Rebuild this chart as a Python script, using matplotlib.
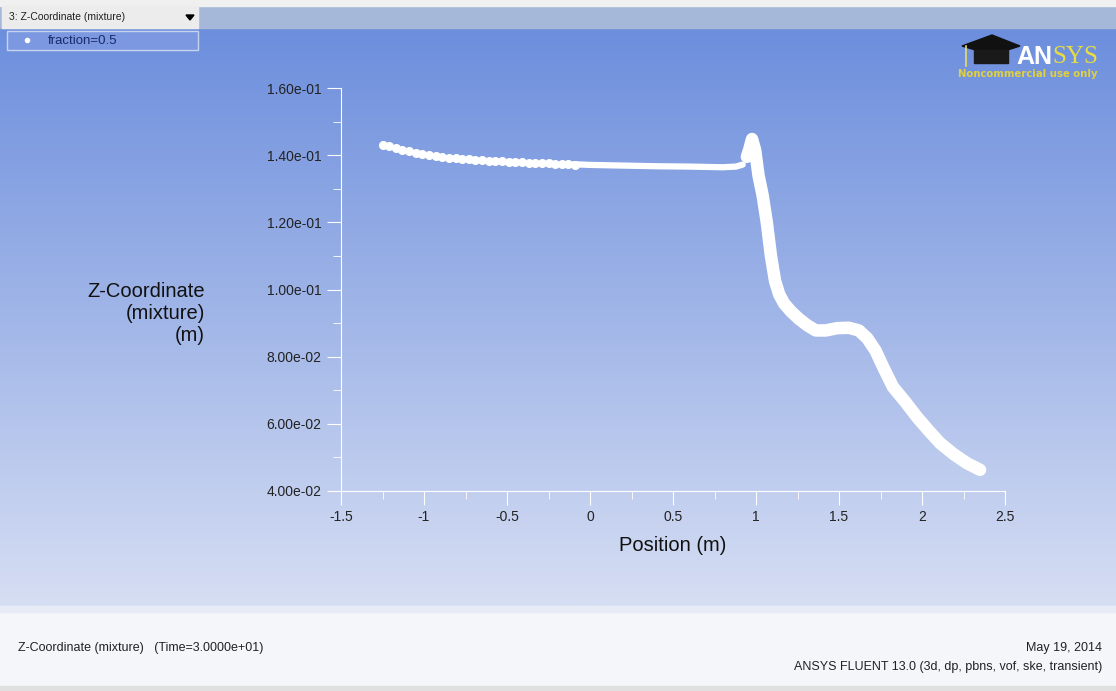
import numpy as np
import matplotlib
matplotlib.use("Agg")
import matplotlib.pyplot as plt
from matplotlib.patches import Rectangle, Polygon

plt.rcParams['font.family'] = ['Liberation Sans', 'DejaVu Sans']

# dotted start of the interface line (position, z)
dot_x = [-1.25, -1.21, -1.17, -1.13, -1.09, -1.05, -1.01, -0.97, -0.93, -0.89,
         -0.85, -0.81, -0.77, -0.73, -0.69, -0.65, -0.61, -0.57, -0.53, -0.49,
         -0.45, -0.41, -0.37, -0.33, -0.29, -0.25, -0.21, -0.17, -0.13, -0.09]
dot_z = [0.1430, 0.1426, 0.1421, 0.1416, 0.1411, 0.1407, 0.1403, 0.1400, 0.1397, 0.1395,
         0.1393, 0.1391, 0.1389, 0.1388, 0.1386, 0.1385, 0.1384, 0.1383, 0.1382, 0.1381,
         0.1380, 0.1379, 0.1378, 0.1377, 0.1377, 0.1376, 0.1375, 0.1374, 0.1373, 0.1372]

# thin flat part of the band
flat_x = [-0.10, 0.00, 0.20, 0.40, 0.60, 0.80, 0.88, 0.92]
flat_z = [0.1373, 0.1371, 0.1369, 0.1367, 0.1366, 0.1364, 0.1366, 0.1372]

# thick part: spike, drop, plateau, tail
band_x = [0.945, 0.96, 0.976, 0.995, 1.015, 1.04, 1.065, 1.09, 1.115,
          1.14, 1.17, 1.21, 1.26, 1.31, 1.36, 1.42, 1.49, 1.56, 1.62, 1.67,
          1.72, 1.77, 1.825, 1.90, 1.97, 2.04, 2.108, 2.19, 2.27, 2.35]
band_z = [0.1395, 0.1418, 0.1448, 0.1415, 0.1340, 0.1280, 0.1200, 0.1100, 0.1025,
          0.0985, 0.0958, 0.0935, 0.0912, 0.0893, 0.0878, 0.0878, 0.0885, 0.0886, 0.0878, 0.0855,
          0.0818, 0.0765, 0.0710, 0.0665, 0.0620, 0.0580, 0.0543, 0.0510, 0.0483, 0.0463]

xticks = [-1.5, -1, -0.5, 0, 0.5, 1, 1.5, 2, 2.5]
xtick_labels = ['-1.5', '-1', '-0.5', '0', '0.5', '1', '1.5', '2', '2.5']
yticks = [0.04, 0.06, 0.08, 0.10, 0.12, 0.14, 0.16]
ytick_labels = ['4.00e-02', '6.00e-02', '8.00e-02', '1.00e-01', '1.20e-01', '1.40e-01', '1.60e-01']

W, H = 1116, 691
fig = plt.figure(figsize=(W / 100, H / 100), dpi=100)

# background: gradient panel, white footer, top bar
bg = fig.add_axes([0, 0, 1, 1], zorder=-10)
bg.set_xlim(0, W)
bg.set_ylim(H, 0)
bg.axis('off')
top_c = np.array([108, 142, 221]) / 255
bot_c = np.array([214, 222, 243]) / 255
t = np.linspace(0, 1, 256)[:, None, None]
grad = top_c * (1 - t) + bot_c * t
grad = np.repeat(grad, 2, axis=1)
bg.imshow(grad, extent=[0, W, 606, 28], aspect='auto')
bg.add_patch(Rectangle((0, 606), W, 85, color='#f4f6fa'))
bg.add_patch(Rectangle((0, 606), W, 6, color='#e6ebf5'))
bg.add_patch(Rectangle((0, 686), W, 5, color='#e0e0e0'))
bg.add_patch(Rectangle((0, 0), W, 28, color='#a6b8da'))
bg.add_patch(Rectangle((0, 0), W, 6, color='#f0f0f0'))
bg.add_patch(Rectangle((2, 6), 196, 22, color='#ececec'))
bg.text(9, 17, '3: Z-Coordinate (mixture)', fontsize=7.5, va='center', color='#202020')
bg.add_patch(Polygon([[186, 15], [194, 15], [190, 20]], color='black'))
bg.add_patch(Rectangle((7, 31), 191, 19, facecolor='#7b98e0', edgecolor='#c8d4ee', lw=1))
bg.plot([27], [40], 'o', color='white', ms=3)
bg.text(48, 41, 'fraction=0.5', fontsize=9.5, va='center', color='#1a2a6a')

# ANSYS logo
bg.add_patch(Polygon([[962, 46], [992, 35], [1020, 46], [992, 55]], color='#111111'))
bg.add_patch(Polygon([[974, 50], [1008, 50], [1008, 63], [974, 63]], color='#1a1a1a'))
bg.plot([966, 966], [46, 66], color='#e8dc6a', lw=1.2)
bg.text(1016, 57, 'AN', fontsize=18, fontweight='bold', color='white', va='center')
bg.text(1052, 57, 'SYS', fontsize=18, family='Liberation Serif', color='#e6dc44', va='center')
bg.text(958, 74, 'Noncommercial use only', fontsize=7.3, fontweight='bold',
        family='DejaVu Sans', color='#e0d040', va='center')

# footer text
bg.text(18, 648, 'Z-Coordinate (mixture)   (Time=3.0000e+01)', fontsize=9, va='center', color='#222222')
bg.text(1102, 648, 'May 19, 2014', fontsize=9, va='center', ha='right', color='#222222')
bg.text(1102, 667, 'ANSYS FLUENT 13.0 (3d, dp, pbns, vof, ske, transient)', fontsize=9,
        va='center', ha='right', color='#222222')

# main plot
ax = fig.add_axes([341 / W, 1 - 491 / H, 664 / W, 403 / H])
ax.patch.set_alpha(0)
ax.plot(flat_x, flat_z, color='white', lw=4.5, solid_capstyle='round')
ax.plot(band_x, band_z, color='white', lw=9, solid_capstyle='round', solid_joinstyle='round')
ax.plot(dot_x, dot_z, 'o', color='white', ms=5.5, mec='white')
ax.set_xlim(-1.5, 2.5)
ax.set_ylim(0.04, 0.16)
for s in ['top', 'right']:
    ax.spines[s].set_visible(False)
for s in ['left', 'bottom']:
    ax.spines[s].set_color('white')
ax.set_xticks(xticks)
ax.set_xticklabels(xtick_labels)
ax.set_yticks(yticks)
ax.set_yticklabels(ytick_labels)
ax.set_xticks(np.arange(-1.25, 2.5, 0.5), minor=True)
ax.set_yticks(np.arange(0.05, 0.16, 0.02), minor=True)
ax.tick_params(which='major', length=10, color='white', labelsize=10, labelcolor='#222222', pad=4)
ax.tick_params(which='minor', length=6, color='white')
ax.set_xlabel('Position (m)', fontsize=14.5, color='#111111', labelpad=8)
fig.text(205 / W, 1 - 314 / H, 'Z-Coordinate\n(mixture)\n(m)', fontsize=14.5, ha='right',
         va='center', multialignment='right', color='#111111', linespacing=1.2)

fig.savefig('out.png', dpi=100)
